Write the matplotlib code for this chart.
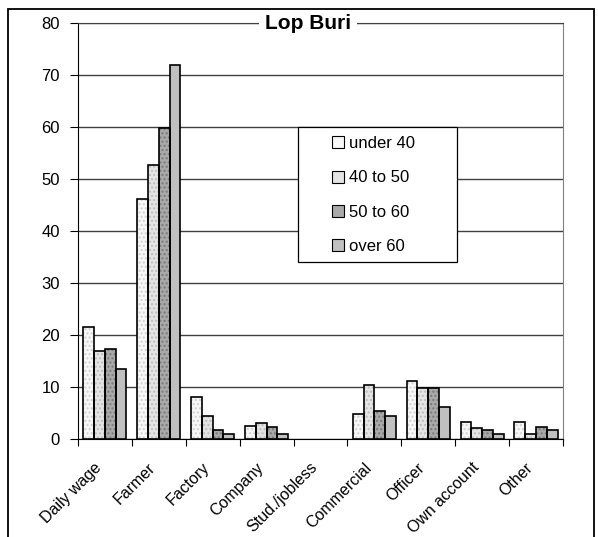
import numpy as np
import matplotlib.pyplot as plt
from matplotlib.patches import Rectangle, Patch

plt.rcParams['font.family'] = ['Liberation Sans', 'DejaVu Sans']

# occupation by age group, Lop Buri (percent)
categories = ['Daily wage', 'Farmer', 'Factory', 'Company', 'Stud./jobless',
              'Commercial', 'Officer', 'Own account', 'Other']
groups = ['under 40', '40 to 50', '50 to 60', 'over 60']
under_40 = [21.5, 46.2, 8.0, 2.5, 0, 4.9, 11.1, 3.2, 3.2]
age_40_50 = [16.9, 52.7, 4.4, 3.0, 0, 10.4, 9.9, 2.05, 1.0]
age_50_60 = [17.4, 59.75, 1.7, 2.25, 0, 5.4, 9.8, 1.7, 2.25]
over_60 = [13.5, 72.0, 1.0, 1.0, 0, 4.4, 6.1, 1.0, 1.7]
series = [under_40, age_40_50, age_50_60, over_60]

faces = ['#f7f7f7', '#e4e4e4', '#a9a9a9', '#c0c0c0']
dots = ['#d0d0d0', '#bdbdbd', '#7a7a7a', None]

fig = plt.figure(figsize=(5.98, 5.37), dpi=100)
ax = fig.add_axes([0.1304, 0.1825, 0.811, 0.7745])

x = np.arange(len(categories))
w = 0.2
for i, vals in enumerate(series):
    pos = x - 0.3 + i * w
    # dotted fill, then the black outline on top (no outline for empty bars)
    if dots[i]:
        ax.bar(pos, vals, w, color=faces[i], edgecolor=dots[i], hatch='....',
               linewidth=0, zorder=3)
    else:
        ax.bar(pos, vals, w, color=faces[i], linewidth=0, zorder=3)
    edges = ['black' if v > 0 else 'none' for v in vals]
    ax.bar(pos, vals, w, fill=False, edgecolor=edges, linewidth=1.2, zorder=4)

ax.set_xlim(-0.5, len(categories) - 0.5)
ax.set_ylim(0, 80)
ax.set_yticks(range(0, 81, 10))
ax.tick_params(axis='y', labelsize=12, length=6, direction='out', pad=7)
ax.yaxis.grid(True, color='#404040', linewidth=1)
ax.set_axisbelow(True)

ax.set_xticks(np.arange(len(categories) + 1) - 0.5)
ax.set_xticklabels([])
ax.tick_params(axis='x', length=5, direction='out')
for xi, name in zip(x, categories):
    ax.text(xi - 0.2, -4.0, name, rotation=45, ha='right', va='top',
            rotation_mode='anchor', fontsize=11.5)

ax.spines['left'].set_color('black')
ax.spines['bottom'].set_color('black')
ax.spines['top'].set_color('#404040')
ax.spines['right'].set_color('#808080')

fig.text(0.515, 0.957, 'Lop Buri', ha='center', va='center', fontsize=15,
         fontweight='bold', bbox=dict(facecolor='white', edgecolor='none', pad=4))

# legend box drawn separately so the padding can be set freely
ax.add_patch(Rectangle((0.4536, 0.4255), 0.3278, 0.3245, transform=ax.transAxes,
                       facecolor='white', edgecolor='black', linewidth=0.9,
                       zorder=5))
handles = [Patch(facecolor=faces[i], edgecolor='black', linewidth=0.8)
           for i in range(4)]
leg = ax.legend(handles, groups, loc='upper left', bbox_to_anchor=(0.5237, 0.728),
                fontsize=12, frameon=False, handlelength=0.72, handleheight=0.72,
                handletextpad=0.3, labelspacing=1.15, borderpad=0,
                borderaxespad=0)
leg.set_zorder(6)

# outer frame around the chart, kept above the title box
fig.add_artist(Rectangle((8 / 598, -0.05), 586 / 598, 1.05 - 9 / 537,
                         transform=fig.transFigure, fill=False,
                         edgecolor='black', linewidth=1.3, zorder=10))

fig.savefig('out.png', dpi=100)
